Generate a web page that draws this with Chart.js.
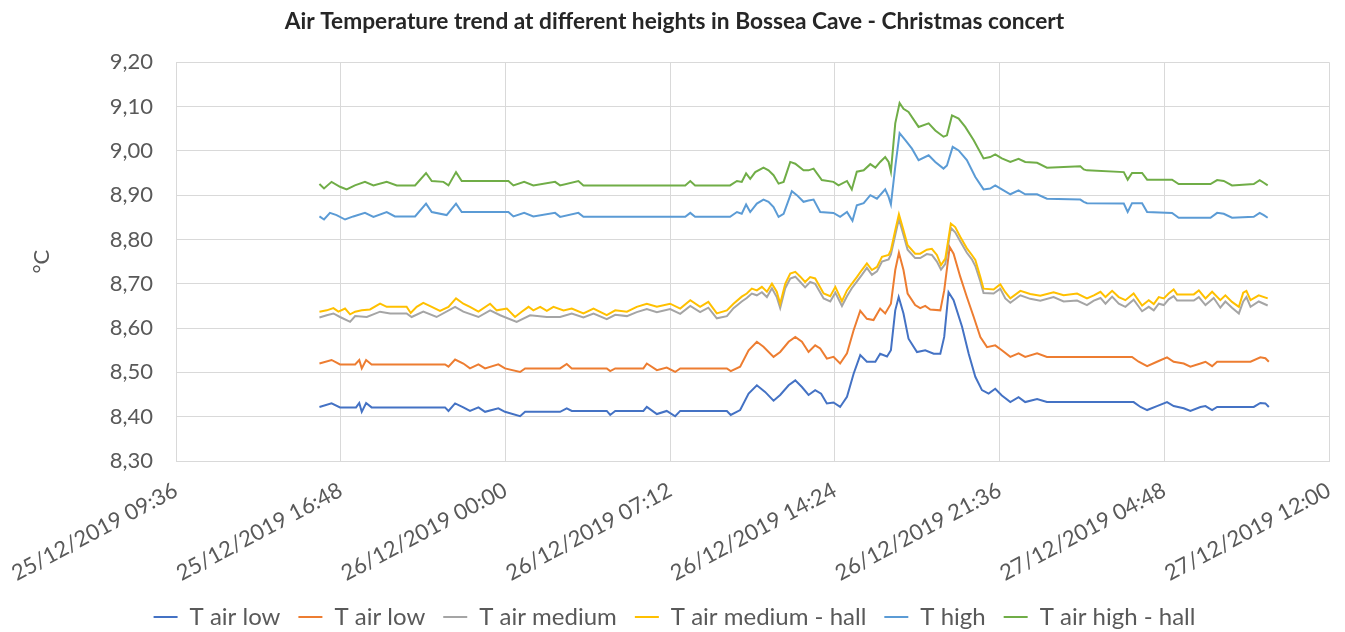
<!DOCTYPE html>
<html>
<head>
<meta charset="utf-8">
<script src="https://cdn.jsdelivr.net/npm/chart.js@4.4.1/dist/chart.umd.min.js"></script>
<style>
  html, body { margin: 0; padding: 0; background: #ffffff; }
  #wrap { width: 1345px; height: 632px; }
</style>
</head>
<body>
<div id="wrap"><canvas id="c" width="1345" height="632"></canvas></div>
<script>
// ---- DATA (hours since 25/12/2019 00:00, temperature °C) ----
const seriesNames = ["T air low", "T air low", "T air medium", "T air medium - hall", "T high", "T air high - hall"];
const seriesColors = ["#4472C4", "#ED7D31", "#A5A5A5", "#FFC000", "#5B9BD5", "#70AD47"];

const xTickLabels = ["25/12/2019 09:36", "25/12/2019 16:48", "26/12/2019 00:00", "26/12/2019 07:12",
                     "26/12/2019 14:24", "26/12/2019 21:36", "27/12/2019 04:48", "27/12/2019 12:00"];

const tAirLow = [[15.87,8.422],[16.40,8.430],[16.77,8.421],[17.47,8.421],[17.61,8.431],[17.72,8.411],[17.91,8.431],[18.15,8.421],
 [21.36,8.421],[21.51,8.413],[21.80,8.430],[22.16,8.421],[22.45,8.413],[22.82,8.421],[23.11,8.411],[23.69,8.419],[23.98,8.411],
 [24.64,8.401],[24.86,8.411],[26.39,8.411],[26.68,8.419],[26.90,8.413],[28.43,8.413],[28.58,8.404],[28.80,8.413],[30.03,8.413],
 [30.18,8.422],[30.62,8.406],[31.05,8.413],[31.42,8.401],[31.64,8.413],[33.68,8.413],[33.85,8.404],[34.26,8.415],[34.63,8.452],
 [34.99,8.471],[35.35,8.456],[35.72,8.436],[36.01,8.449],[36.38,8.471],[36.67,8.482],[36.96,8.467],[37.25,8.449],[37.54,8.460],
 [37.80,8.452],[38.05,8.430],[38.34,8.432],[38.63,8.422],[38.93,8.445],[39.22,8.497],[39.51,8.539],[39.80,8.524],[40.17,8.524],
 [40.38,8.542],[40.68,8.536],[40.85,8.550],[41.04,8.640],[41.19,8.670],[41.40,8.633],[41.62,8.576],[41.99,8.546],[42.35,8.550],
 [42.72,8.542],[43.01,8.542],[43.18,8.580],[43.37,8.681],[43.59,8.663],[43.96,8.603],[44.25,8.542],[44.54,8.490],[44.83,8.460],
 [45.12,8.452],[45.41,8.463],[45.70,8.448],[46.07,8.433],[46.43,8.444],[46.72,8.433],[47.24,8.440],[47.67,8.433],[51.46,8.433],
 [51.76,8.422],[52.05,8.415],[52.48,8.424],[52.92,8.433],[53.21,8.424],[53.65,8.419],[53.94,8.413],[54.38,8.422],[54.60,8.424],
 [54.89,8.415],[55.11,8.422],[56.71,8.422],[57.00,8.431],[57.22,8.430],[57.37,8.422]];

const tAirLow2 = [[15.87,8.520],[16.40,8.528],[16.77,8.518],[17.43,8.518],[17.61,8.528],[17.72,8.509],[17.91,8.528],[18.15,8.518],
 [21.36,8.518],[21.51,8.513],[21.80,8.529],[22.16,8.520],[22.45,8.509],[22.82,8.518],[23.11,8.509],[23.69,8.518],[23.98,8.509],
 [24.64,8.501],[24.86,8.509],[26.39,8.509],[26.68,8.519],[26.90,8.509],[28.43,8.509],[28.58,8.503],[28.80,8.509],[30.03,8.509],
 [30.18,8.520],[30.62,8.505],[31.05,8.511],[31.42,8.501],[31.64,8.509],[33.68,8.509],[33.85,8.503],[34.26,8.513],[34.63,8.550],
 [34.99,8.569],[35.28,8.558],[35.72,8.535],[36.01,8.546],[36.38,8.569],[36.67,8.580],[36.96,8.569],[37.25,8.546],[37.54,8.561],
 [37.76,8.554],[38.05,8.531],[38.34,8.535],[38.63,8.520],[38.93,8.543],[39.22,8.595],[39.51,8.639],[39.80,8.621],[40.09,8.618],
 [40.38,8.644],[40.60,8.633],[40.85,8.655],[41.04,8.731],[41.20,8.770],[41.40,8.731],[41.58,8.678],[41.91,8.652],[42.13,8.645],
 [42.35,8.650],[42.57,8.642],[43.01,8.640],[43.18,8.685],[43.42,8.783],[43.59,8.768],[43.88,8.716],[44.17,8.670],[44.47,8.625],
 [44.76,8.580],[45.05,8.557],[45.41,8.561],[45.70,8.550],[46.07,8.535],[46.43,8.543],[46.72,8.535],[47.24,8.543],[47.67,8.535],
 [51.39,8.535],[51.68,8.524],[52.05,8.514],[52.48,8.524],[52.92,8.534],[53.21,8.524],[53.65,8.520],[53.94,8.513],[54.38,8.520],
 [54.60,8.524],[54.89,8.514],[55.11,8.524],[56.57,8.524],[57.00,8.534],[57.22,8.532],[57.37,8.524]];

const tAirMedium = [[15.87,8.624],[16.19,8.629],[16.48,8.633],[16.77,8.625],[17.21,8.614],[17.43,8.627],[17.94,8.625],[18.52,8.637],
 [18.96,8.633],[19.68,8.633],[19.90,8.625],[20.41,8.637],[20.99,8.625],[21.80,8.648],[22.16,8.637],[22.82,8.625],[23.33,8.640],
 [23.77,8.629],[24.49,8.614],[25.08,8.629],[25.81,8.625],[26.39,8.625],[26.90,8.633],[27.41,8.624],[27.85,8.633],[28.43,8.620],
 [28.80,8.630],[29.31,8.627],[29.74,8.636],[30.18,8.643],[30.62,8.636],[31.20,8.643],[31.64,8.632],[32.08,8.650],[32.51,8.636],
 [32.87,8.646],[33.24,8.622],[33.68,8.627],[33.97,8.645],[34.33,8.660],[34.55,8.668],[34.77,8.678],[34.99,8.674],[35.21,8.681],
 [35.43,8.670],[35.65,8.690],[35.86,8.670],[36.01,8.645],[36.23,8.690],[36.45,8.712],[36.67,8.716],[36.89,8.704],[37.10,8.692],
 [37.32,8.704],[37.54,8.700],[37.91,8.667],[38.20,8.660],[38.42,8.680],[38.71,8.650],[38.93,8.672],[39.14,8.690],[39.36,8.705],
 [39.58,8.720],[39.80,8.736],[40.02,8.720],[40.24,8.728],[40.46,8.750],[40.75,8.755],[40.85,8.766],[41.04,8.810],[41.20,8.846],
 [41.40,8.810],[41.58,8.777],[41.91,8.758],[42.13,8.758],[42.42,8.767],[42.64,8.765],[42.86,8.750],[43.04,8.732],[43.23,8.745],
 [43.47,8.826],[43.66,8.816],[43.88,8.796],[44.17,8.770],[44.39,8.755],[44.54,8.740],[44.76,8.705],[44.90,8.679],[45.34,8.678],
 [45.63,8.689],[45.85,8.667],[46.07,8.657],[46.51,8.674],[46.94,8.666],[47.38,8.662],[47.96,8.670],[48.40,8.660],[48.99,8.662],
 [49.42,8.652],[49.72,8.662],[50.01,8.668],[50.23,8.655],[50.52,8.671],[50.81,8.655],[51.10,8.648],[51.46,8.664],[51.83,8.638],
 [52.12,8.648],[52.34,8.640],[52.56,8.655],[52.78,8.652],[52.99,8.665],[53.21,8.672],[53.36,8.662],[54.09,8.662],[54.31,8.670],
 [54.60,8.652],[54.96,8.668],[55.25,8.646],[55.47,8.660],[55.76,8.646],[56.06,8.633],[56.25,8.660],[56.39,8.670],[56.57,8.648],
 [56.93,8.660],[57.32,8.651]];

const tAirMediumHall = [[15.87,8.637],[16.19,8.640],[16.48,8.645],[16.70,8.637],[16.99,8.644],[17.21,8.631],[17.43,8.637],[17.72,8.640],
 [18.08,8.642],[18.52,8.655],[18.81,8.648],[19.68,8.648],[19.86,8.634],[20.12,8.648],[20.41,8.657],[20.78,8.648],[21.14,8.639],
 [21.51,8.648],[21.84,8.667],[22.16,8.655],[22.45,8.648],[22.82,8.637],[23.33,8.655],[23.62,8.640],[24.06,8.644],[24.42,8.625],
 [24.71,8.637],[25.01,8.648],[25.22,8.640],[25.52,8.648],[25.81,8.639],[26.10,8.648],[26.54,8.640],[26.90,8.644],[27.41,8.633],
 [27.85,8.644],[28.43,8.629],[28.80,8.640],[29.31,8.637],[29.74,8.648],[30.18,8.655],[30.62,8.648],[31.20,8.655],[31.64,8.644],
 [32.08,8.663],[32.51,8.648],[32.87,8.659],[33.24,8.633],[33.68,8.640],[33.97,8.655],[34.33,8.671],[34.55,8.678],[34.77,8.689],
 [34.99,8.685],[35.21,8.693],[35.43,8.682],[35.65,8.700],[35.86,8.682],[36.01,8.655],[36.23,8.700],[36.45,8.723],[36.67,8.727],
 [36.89,8.716],[37.10,8.704],[37.32,8.715],[37.54,8.712],[37.91,8.678],[38.20,8.672],[38.42,8.693],[38.71,8.661],[38.93,8.685],
 [39.14,8.700],[39.36,8.715],[39.58,8.731],[39.80,8.746],[40.02,8.731],[40.24,8.738],[40.46,8.761],[40.75,8.765],[40.85,8.776],
 [41.04,8.821],[41.20,8.857],[41.40,8.821],[41.58,8.787],[41.91,8.768],[42.13,8.768],[42.42,8.777],[42.64,8.779],[42.86,8.765],
 [43.04,8.742],[43.23,8.757],[43.47,8.836],[43.66,8.828],[43.88,8.806],[44.17,8.780],[44.39,8.765],[44.54,8.754],[44.76,8.715],
 [44.90,8.689],[45.34,8.687],[45.63,8.699],[45.85,8.681],[46.07,8.667],[46.51,8.684],[46.94,8.677],[47.38,8.673],[47.96,8.681],
 [48.40,8.674],[48.99,8.678],[49.42,8.667],[49.72,8.674],[50.01,8.682],[50.23,8.670],[50.52,8.684],[50.81,8.670],[51.10,8.663],
 [51.46,8.678],[51.83,8.651],[52.12,8.663],[52.34,8.654],[52.56,8.670],[52.78,8.667],[52.99,8.678],[53.21,8.687],[53.36,8.676],
 [54.09,8.676],[54.31,8.685],[54.60,8.667],[54.89,8.682],[55.25,8.663],[55.47,8.674],[55.76,8.659],[56.06,8.648],[56.25,8.680],
 [56.39,8.684],[56.57,8.663],[56.93,8.674],[57.32,8.667]];

const tHigh = [[15.87,8.852],[16.07,8.845],[16.33,8.860],[16.62,8.855],[16.99,8.845],[17.35,8.852],[17.86,8.860],[18.23,8.851],
 [18.81,8.862],[19.17,8.852],[20.05,8.852],[20.53,8.881],[20.78,8.862],[21.43,8.855],[21.84,8.881],[22.09,8.862],[24.13,8.862],
 [24.35,8.852],[24.82,8.860],[25.22,8.852],[26.17,8.860],[26.39,8.851],[27.19,8.860],[27.41,8.851],[31.86,8.851],[32.08,8.860],
 [32.29,8.851],[33.82,8.851],[34.12,8.862],[34.33,8.858],[34.52,8.879],[34.70,8.862],[34.99,8.881],[35.28,8.890],[35.50,8.885],
 [35.72,8.873],[35.94,8.851],[36.16,8.858],[36.52,8.909],[36.74,8.900],[37.03,8.885],[37.25,8.888],[37.47,8.890],[37.76,8.862],
 [38.34,8.860],[38.63,8.851],[38.93,8.862],[39.17,8.842],[39.36,8.877],[39.66,8.882],[39.95,8.900],[40.24,8.892],[40.60,8.913],
 [40.75,8.896],[40.85,8.879],[41.04,8.964],[41.23,9.040],[41.48,9.024],[41.77,9.005],[42.06,8.979],[42.50,8.990],[42.79,8.975],
 [43.15,8.960],[43.30,8.967],[43.55,9.009],[43.81,9.001],[44.17,8.979],[44.54,8.941],[44.90,8.913],[45.19,8.915],[45.41,8.922],
 [45.70,8.913],[46.07,8.902],[46.43,8.911],[46.72,8.902],[47.24,8.902],[47.67,8.892],[49.13,8.890],[49.28,8.885],[49.42,8.882],
 [51.03,8.881],[51.20,8.862],[51.39,8.882],[51.83,8.882],[52.05,8.862],[53.14,8.860],[53.43,8.849],[54.82,8.849],[55.11,8.860],
 [55.40,8.858],[55.76,8.849],[56.71,8.851],[56.97,8.860],[57.15,8.855],[57.32,8.849]];

const tAirHighHall = [[15.87,8.925],[16.07,8.915],[16.40,8.930],[16.77,8.919],[17.06,8.913],[17.42,8.922],[17.86,8.930],[18.23,8.922],
 [18.81,8.930],[19.25,8.922],[20.05,8.922],[20.53,8.950],[20.78,8.932],[21.29,8.930],[21.51,8.922],[21.84,8.952],[22.09,8.932],
 [24.13,8.932],[24.35,8.922],[24.82,8.930],[25.22,8.922],[26.17,8.930],[26.39,8.922],[27.19,8.932],[27.41,8.922],[31.86,8.922],
 [32.08,8.932],[32.29,8.922],[33.82,8.922],[34.12,8.932],[34.33,8.930],[34.52,8.949],[34.70,8.937],[34.92,8.952],[35.28,8.962],
 [35.50,8.956],[35.72,8.945],[35.94,8.926],[36.16,8.930],[36.45,8.975],[36.67,8.971],[37.03,8.956],[37.25,8.956],[37.47,8.960],
 [37.83,8.934],[38.34,8.930],[38.56,8.922],[38.93,8.932],[39.14,8.913],[39.36,8.953],[39.66,8.956],[39.95,8.970],[40.17,8.962],
 [40.38,8.975],[40.60,8.986],[40.75,8.975],[40.85,8.953],[41.04,9.062],[41.23,9.108],[41.40,9.095],[41.62,9.088],[42.06,9.054],
 [42.50,9.062],[42.79,9.046],[43.15,9.032],[43.30,9.035],[43.52,9.080],[43.81,9.073],[44.10,9.054],[44.47,9.024],[44.90,8.983],
 [45.19,8.986],[45.41,8.992],[45.70,8.983],[46.07,8.975],[46.43,8.982],[46.72,8.975],[47.24,8.973],[47.67,8.962],[49.13,8.965],
 [49.28,8.958],[49.42,8.956],[51.03,8.952],[51.20,8.935],[51.39,8.950],[51.83,8.950],[52.05,8.935],[53.14,8.935],[53.43,8.925],
 [54.82,8.925],[55.11,8.934],[55.40,8.932],[55.76,8.922],[56.71,8.925],[56.97,8.934],[57.15,8.928],[57.32,8.922]];

const allSeries = [tAirLow, tAirLow2, tAirMedium, tAirMediumHall, tHigh, tAirHighHall];

// ---- CHART ----
const FONT = "Lato, 'Open Sans', sans-serif";
const datasets = allSeries.map((s, i) => ({
  label: seriesNames[i],
  data: s.map(p => ({ x: p[0], y: p[1] })),
  borderColor: seriesColors[i],
  backgroundColor: seriesColors[i],
  borderWidth: 2,
  pointRadius: 0,
  pointHoverRadius: 0,
  tension: 0,
  fill: false,
  order: 6 - i
}));

new Chart(document.getElementById('c'), {
  type: 'line',
  data: { datasets },
  options: {
    responsive: false,
    animation: false,
    events: [],
    layout: { padding: { left: 20, right: 16, top: 0, bottom: -7 } },
    plugins: {
      title: {
        display: true,
        text: 'Air Temperature trend at different heights in Bossea Cave - Christmas concert',
        color: '#262626',
        font: { family: FONT, size: 22.7, weight: 'bold' },
        padding: { top: 8, bottom: 27 }
      },
      legend: {
        position: 'bottom',
        labels: {
          usePointStyle: true,
          pointStyle: 'line',
          pointStyleWidth: 24,
          boxHeight: 8,
          color: '#595959',
          font: { family: FONT, size: 24 },
          padding: 18,
          sort: (a, b) => a.datasetIndex - b.datasetIndex
        }
      },
      tooltip: { enabled: false }
    },
    scales: {
      x: {
        type: 'linear',
        min: 9.6,
        max: 60,
        ticks: {
          stepSize: 7.2,
          autoSkip: false,
          maxRotation: 28,
          minRotation: 28,
          padding: 16,
          color: '#595959',
          font: { family: FONT, size: 22 },
          callback: (v, i) => xTickLabels[i]
        },
        grid: { color: '#d9d9d9', lineWidth: 1, drawTicks: false },
        border: { color: '#d9d9d9' },
        afterFit: (s) => { s.height = 126; s.paddingLeft = 0; s.paddingRight = 0; }
      },
      y: {
        min: 8.3,
        max: 9.2,
        ticks: {
          stepSize: 0.1,
          padding: 23,
          color: '#595959',
          font: { family: FONT, size: 22 },
          callback: (v) => Number(v).toFixed(2).replace('.', ',')
        },
        grid: { color: '#d9d9d9', lineWidth: 1, drawTicks: false },
        border: { color: '#d9d9d9' },
        title: {
          display: true,
          text: '°C',
          color: '#595959',
          font: { family: FONT, size: 22 },
          padding: { top: 9, bottom: 0 }
        },
        afterFit: (s) => { s.width = 156; }
      }
    }
  }
});
</script>
</body>
</html>
